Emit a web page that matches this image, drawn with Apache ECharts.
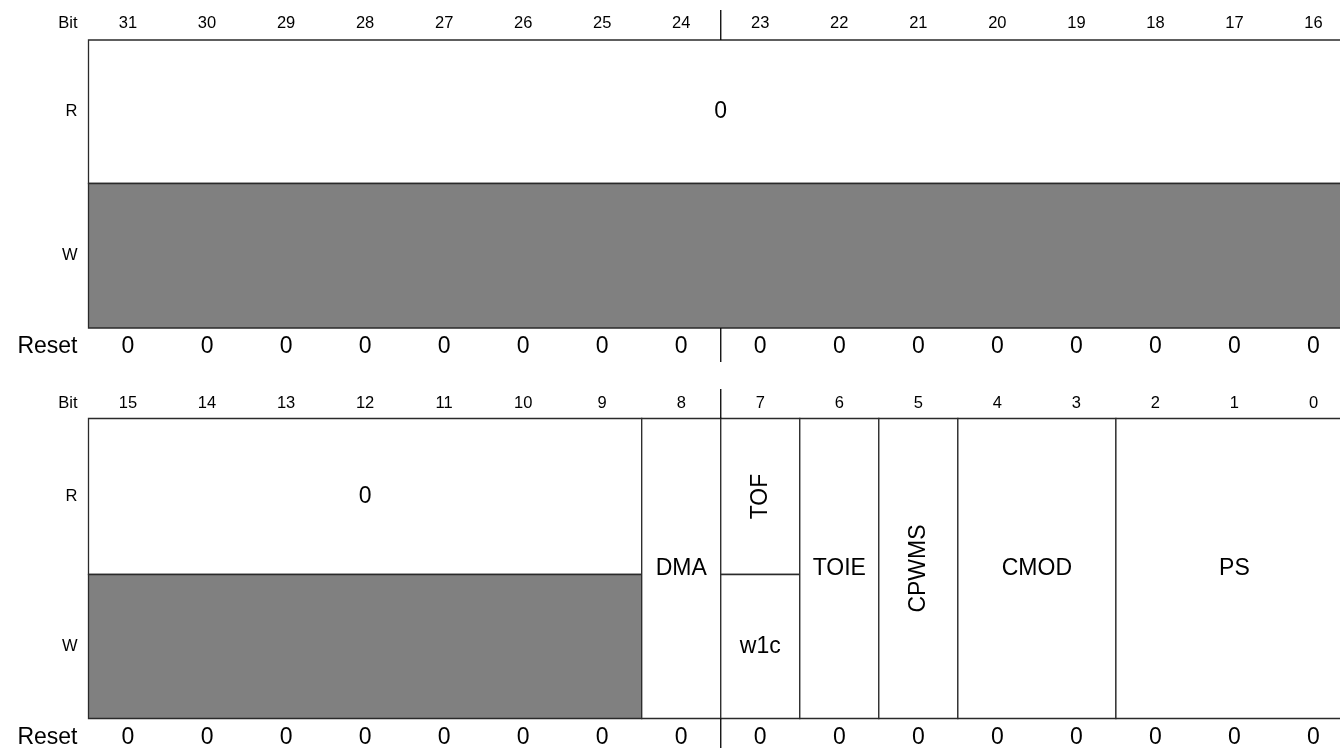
<!DOCTYPE html>
<html>
<head>
<meta charset="utf-8">
<script src="https://cdn.jsdelivr.net/npm/echarts@6/dist/echarts.min.js"></script>
<style>
html,body{margin:0;padding:0;background:#fff;overflow:hidden;width:1340px;height:748px;}
#chart{width:1353px;height:748px;}
</style>
</head>
<body>
<div id="chart"></div>
<script>
// ---- data ----
const bitsTop = [31, 30, 29, 28, 27, 26, 25, 24, 23, 22, 21, 20, 19, 18, 17, 16];
const bitsBottom = [15, 14, 13, 12, 11, 10, 9, 8, 7, 6, 5, 4, 3, 2, 1, 0];
const resetTop = [0, 0, 0, 0, 0, 0, 0, 0, 0, 0, 0, 0, 0, 0, 0, 0];
const resetBottom = [0, 0, 0, 0, 0, 0, 0, 0, 0, 0, 0, 0, 0, 0, 0, 0];
const fieldNames = ['0', '0', 'DMA', 'TOF', 'TOIE', 'CPWMS', 'CMOD', 'PS'];
const fieldMsb = [31, 15, 8, 7, 6, 5, 4, 2];
const fieldLsb = [16, 9, 8, 7, 6, 5, 3, 0];
// write access: 'none' = reserved (grey), 'rw' = same field, other = separate write label
const fieldWrite = ['none', 'none', 'rw', 'w1c', 'rw', 'rw', 'rw', 'rw'];
const fieldVertical = [false, false, false, true, false, true, false, false];
const rowLabels = ['Bit', 'R', 'W', 'Reset'];

// ---- layout (pixel rows on the y axis) ----
const layout = [
  {bitY: 23, top: 40, mid: 183.5, bottom: 328, resetY: 347, sepTop: 10, sepBot: 362},
  {bitY: 403, top: 418.5, mid: 574.5, bottom: 718.5, resetY: 738, sepTop: 389, sepBot: 760}
];
const FONT = '"Liberation Sans", Arial, Helvetica, sans-serif';
const LINE = '#2a2a2a';
const GREY = '#808080';
const SMALL = 16.5, BIG = 23;

function txt(x, y, s, size, align, rot) {
  return {
    type: 'text', x: x, y: y, rotation: rot || 0,
    style: {text: s, fill: '#000', font: size + 'px ' + FONT, align: align || 'center', verticalAlign: 'middle'}
  };
}

const chart = echarts.init(document.getElementById('chart'), null, {renderer: 'canvas'});

const fieldData = fieldNames.map((n, i) => [fieldMsb[i], fieldLsb[i], i]);
const bitData = [];
bitsTop.forEach((b, c) => bitData.push([c + 0.5, b, 0, resetTop[c]]));
bitsBottom.forEach((b, c) => bitData.push([c + 0.5, b, 1, resetBottom[c]]));

const option = {
  animation: false,
  grid: {left: 88.5, right: 0, top: 0, bottom: 0},
  xAxis: {type: 'value', min: 0, max: 16, show: false},
  yAxis: {type: 'value', min: 0, max: 748, inverse: true, show: false},
  series: [
    {
      type: 'custom', clip: false,
      data: fieldData,
      renderItem: function (params, api) {
        const i = api.value(2);
        const msb = api.value(0), lsb = api.value(1);
        const reg = msb >= 16 ? 0 : 1;
        const L = layout[reg];
        const x0 = 15 - (msb % 16), x1 = 16 - (lsb % 16);
        const pTL = api.coord([x0, L.top]);
        const pM = api.coord([x1, L.mid]);
        const pBR = api.coord([x1, L.bottom]);
        const w = pBR[0] - pTL[0];
        const cx = (pTL[0] + pBR[0]) / 2;
        const ch = [];
        const name = fieldNames[i];
        const wr = fieldWrite[i];
        const rot = fieldVertical[i] ? Math.PI / 2 : 0;
        if (wr === 'rw') {
          ch.push({type: 'rect', shape: {x: pTL[0], y: pTL[1], width: w, height: pBR[1] - pTL[1]},
            style: {fill: '#fff', stroke: LINE, lineWidth: 1.3}});
          ch.push(txt(cx, (pTL[1] + pBR[1]) / 2, name, BIG, 'center', rot));
        } else {
          ch.push({type: 'rect', shape: {x: pTL[0], y: pTL[1], width: w, height: pM[1] - pTL[1]},
            style: {fill: '#fff', stroke: LINE, lineWidth: 1.3}});
          ch.push({type: 'rect', shape: {x: pTL[0], y: pM[1], width: w, height: pBR[1] - pM[1]},
            style: {fill: wr === 'none' ? GREY : '#fff', stroke: LINE, lineWidth: 1.3}});
          ch.push(txt(cx, (pTL[1] + pM[1]) / 2, name, BIG, 'center', rot));
          if (wr !== 'none') ch.push(txt(cx, (pM[1] + pBR[1]) / 2, wr, BIG, 'center', 0));
        }
        return {type: 'group', children: ch};
      }
    },
    {
      type: 'custom', clip: false,
      data: bitData,
      renderItem: function (params, api) {
        const reg = api.value(2);
        const L = layout[reg];
        const pb = api.coord([api.value(0), L.bitY]);
        const pr = api.coord([api.value(0), L.resetY]);
        return {type: 'group', children: [
          txt(pb[0], pb[1], String(api.value(1)), SMALL),
          txt(pr[0], pr[1], String(api.value(3)), BIG)
        ]};
      }
    },
    {
      type: 'custom', clip: false,
      data: [[0], [1]],
      renderItem: function (params, api) {
        const L = layout[api.value(0)];
        const lx = api.coord([0, 0])[0] - 11;
        const s1 = api.coord([8, L.sepTop]), s2 = api.coord([8, L.top]);
        const s3 = api.coord([8, L.bottom]), s4 = api.coord([8, L.sepBot]);
        const sx = s1[0];
        return {type: 'group', children: [
          txt(lx, api.coord([0, L.bitY])[1], rowLabels[0], SMALL, 'right'),
          txt(lx, api.coord([0, (L.top + L.mid) / 2])[1], rowLabels[1], SMALL, 'right'),
          txt(lx, api.coord([0, (L.mid + L.bottom) / 2])[1], rowLabels[2], SMALL, 'right'),
          txt(lx, api.coord([0, L.resetY])[1], rowLabels[3], BIG, 'right'),
          {type: 'line', shape: {x1: sx, y1: s1[1], x2: sx, y2: s2[1]}, style: {stroke: '#000', lineWidth: 1.3}},
          {type: 'line', shape: {x1: sx, y1: s3[1], x2: sx, y2: s4[1]}, style: {stroke: '#000', lineWidth: 1.3}}
        ]};
      }
    }
  ]
};
chart.setOption(option);
</script>
</body>
</html>
